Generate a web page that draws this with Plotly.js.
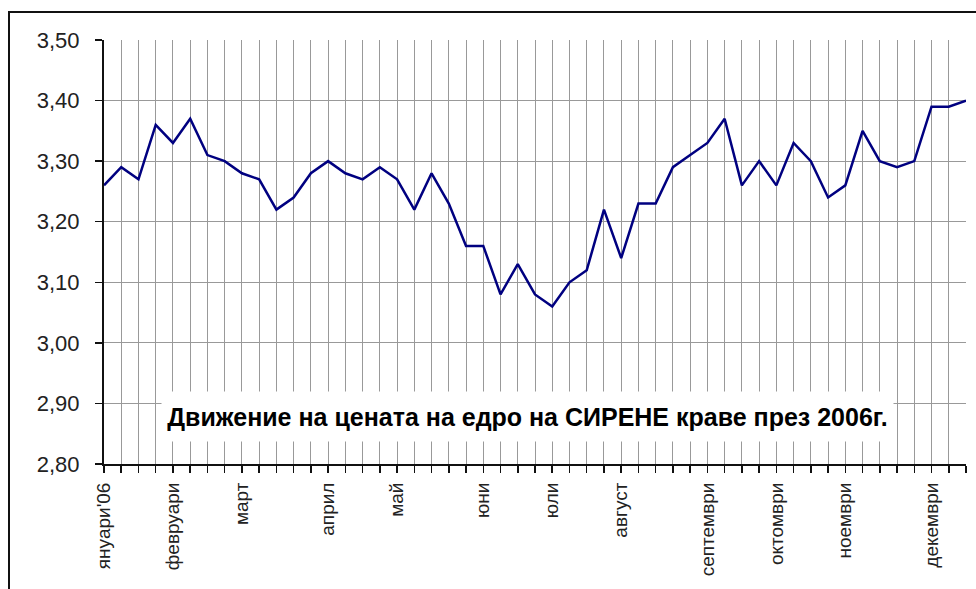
<!DOCTYPE html>
<html>
<head>
<meta charset="utf-8">
<script src="https://cdn.plot.ly/plotly-3.0.1.min.js"></script>
<style>
  html, body { margin: 0; padding: 0; background: #ffffff; overflow: hidden; }
  #frame { position: absolute; left: 8px; top: 11px; width: 1100px; height: 700px; border: 2px solid #111; box-sizing: border-box; }
  #chart { position: absolute; left: 0; top: 0; width: 976px; height: 589px; }
</style>
</head>
<body>
<div id="frame"></div>
<div id="chart"></div>
<script>
// Weekly wholesale price of cow cheese (СИРЕНЕ краве), 2006
const prices = [
  3.26, 3.29, 3.27, 3.36, 3.33, 3.37, 3.31, 3.30, 3.28, 3.27,
  3.22, 3.24, 3.28, 3.30, 3.28, 3.27, 3.29, 3.27, 3.22, 3.28,
  3.23, 3.16, 3.16, 3.08, 3.13, 3.08, 3.06, 3.10, 3.12, 3.22,
  3.14, 3.23, 3.23, 3.29, 3.31, 3.33, 3.37, 3.26, 3.30, 3.26,
  3.33, 3.30, 3.24, 3.26, 3.35, 3.30, 3.29, 3.30, 3.39, 3.39,
  3.40
];
const monthLabels = ["януари'06", "февруари", "март", "април", "май", "юни",
                     "юли", "август", "септември", "октомври", "ноември", "декември"];
const monthWeekIndex = [0, 4, 8, 13, 17, 22, 26, 30, 35, 39, 43, 48];
const yTicks = [2.80, 2.90, 3.00, 3.10, 3.20, 3.30, 3.40, 3.50];
const chartTitle = "Движение на цената на едро на СИРЕНЕ краве през 2006г.";

const weeks = prices.map((_, i) => i);
const tickText = weeks.map(i => {
  const k = monthWeekIndex.indexOf(i);
  return k >= 0 ? monthLabels[k] : "";
});

const trace = {
  x: weeks,
  y: prices,
  type: 'scatter',
  mode: 'lines',
  line: { color: '#000080', width: 2.5 },
  hoverinfo: 'skip'
};

const layout = {
  width: 976,
  height: 589,
  margin: { l: 104, r: 10, t: 40, b: 125 },
  paper_bgcolor: 'rgba(0,0,0,0)',
  plot_bgcolor: '#ffffff',
  separators: ',.',
  showlegend: false,
  font: { family: 'Liberation Sans, Arial, sans-serif', color: '#222' },
  xaxis: {
    range: [0, weeks.length - 1],
    tickmode: 'array',
    tickvals: weeks,
    ticktext: tickText,
    tickangle: -90,
    ticks: 'outside',
    ticklen: 7,
    tickcolor: '#111',
    tickwidth: 1.5,
    ticklabelstandoff: 2,
    showgrid: true,
    gridcolor: '#999999',
    gridwidth: 1,
    showline: true,
    linecolor: '#111',
    linewidth: 2,
    zeroline: false,
    tickfont: { size: 19, color: '#222' },
    fixedrange: true
  },
  yaxis: {
    range: [2.8, 3.5],
    tickmode: 'array',
    tickvals: yTicks,
    tickformat: '.2f',
    ticks: 'outside',
    ticklen: 7,
    tickcolor: '#111',
    tickwidth: 1.5,
    ticklabelstandoff: 11,
    showgrid: true,
    gridcolor: '#999999',
    gridwidth: 1,
    showline: true,
    linecolor: '#111',
    linewidth: 2,
    zeroline: false,
    tickfont: { size: 22, color: '#222' },
    fixedrange: true
  },
  annotations: [{
    xref: 'paper', yref: 'paper',
    x: 0.4913, y: 0.112,
    xanchor: 'center', yanchor: 'middle',
    text: '<b>' + chartTitle + '</b>',
    showarrow: false,
    bgcolor: '#ffffff',
    width: 729,
    height: 47,
    font: { size: 25, color: '#000', family: 'Liberation Sans, Arial, sans-serif' }
  }]
};

Plotly.newPlot('chart', [trace], layout, { displayModeBar: false, staticPlot: true });
</script>
</body>
</html>
